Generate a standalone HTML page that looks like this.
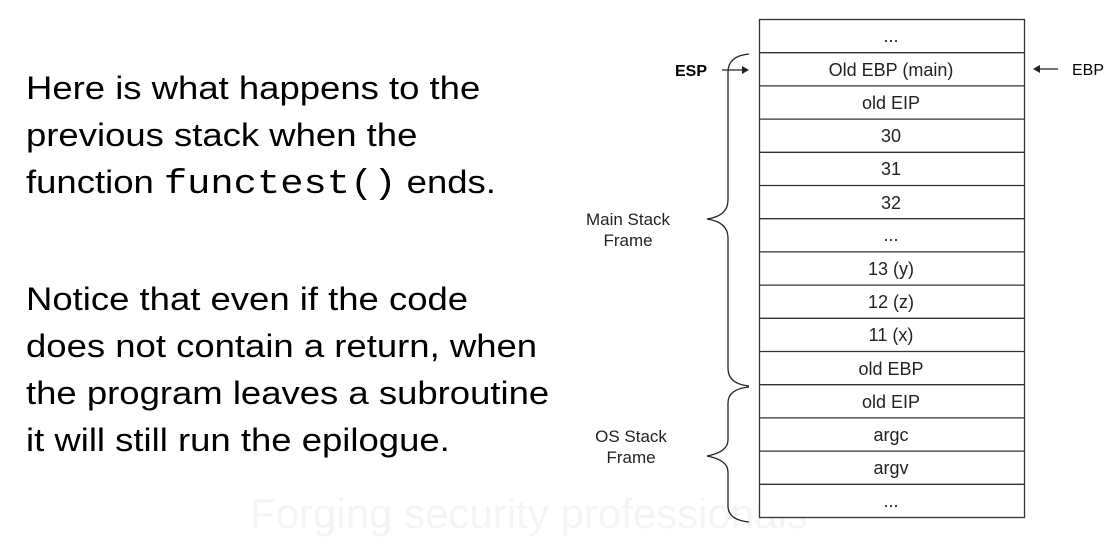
<!DOCTYPE html>
<html><head><meta charset="utf-8"><style>
body{margin:0;width:1110px;height:548px;background:#fff;position:relative;overflow:hidden;font-family:"Liberation Sans",sans-serif}
.l{position:absolute;left:26px;font-size:32px;color:#000;white-space:nowrap;line-height:1;transform:scaleX(1.14);transform-origin:0 0}
.m{font-family:"Liberation Mono",monospace;font-size:34px}
</style></head><body>
<div style="position:absolute;left:250px;top:490px;font-size:42px;color:#f7f3f3;white-space:nowrap">Forging security professionals</div>
<div class="l" style="top:72px">Here is what happens to the</div>
<div class="l" style="top:119px">previous stack when the</div>
<div class="l" style="top:166px">function <span class="m">functest()</span> ends.</div>
<div class="l" style="top:283px">Notice that even if the code</div>
<div class="l" style="top:330px">does not contain a return, when</div>
<div class="l" style="top:377px">the program leaves a subroutine</div>
<div class="l" style="top:424px">it will still run the epilogue.</div>
<svg width="1110" height="548" style="position:absolute;left:0;top:0" font-family="Liberation Sans, sans-serif">
<g stroke="#333" stroke-width="1.3" fill="#fff">
<rect x="759.5" y="19.5" width="265" height="498"/>
</g>
<g stroke="#333" stroke-width="1.3">
<line x1="759" x2="1024" y1="52.7" y2="52.7"/><line x1="759" x2="1024" y1="85.9" y2="85.9"/>
<line x1="759" x2="1024" y1="119.1" y2="119.1"/><line x1="759" x2="1024" y1="152.3" y2="152.3"/>
<line x1="759" x2="1024" y1="185.5" y2="185.5"/><line x1="759" x2="1024" y1="218.7" y2="218.7"/>
<line x1="759" x2="1024" y1="251.9" y2="251.9"/><line x1="759" x2="1024" y1="285.1" y2="285.1"/>
<line x1="759" x2="1024" y1="318.3" y2="318.3"/><line x1="759" x2="1024" y1="351.5" y2="351.5"/>
<line x1="759" x2="1024" y1="384.7" y2="384.7"/><line x1="759" x2="1024" y1="417.9" y2="417.9"/>
<line x1="759" x2="1024" y1="451.1" y2="451.1"/><line x1="759" x2="1024" y1="484.3" y2="484.3"/>
</g>
<g font-size="18" fill="#222" text-anchor="middle">
<text x="891" y="42">...</text>
<text x="891" y="76">Old EBP (main)</text>
<text x="891" y="109">old EIP</text>
<text x="891" y="142">30</text>
<text x="891" y="175">31</text>
<text x="891" y="209">32</text>
<text x="891" y="241">...</text>
<text x="891" y="275">13 (y)</text>
<text x="891" y="308">12 (z)</text>
<text x="891" y="341">11 (x)</text>
<text x="891" y="375">old EBP</text>
<text x="891" y="408">old EIP</text>
<text x="891" y="441">argc</text>
<text x="891" y="474">argv</text>
<text x="891" y="507">...</text>
<text x="628" y="225" font-size="17">Main Stack</text>
<text x="628" y="246" font-size="17">Frame</text>
<text x="631" y="442" font-size="17">OS Stack</text>
<text x="631" y="463" font-size="17">Frame</text>
</g>
<text x="675" y="76" font-size="16" font-weight="bold" fill="#000">ESP</text>
<text x="1072" y="75" font-size="16" fill="#000">EBP</text>
<g stroke="#222" stroke-width="1.3" fill="none">
<line x1="722" y1="70" x2="742" y2="70"/>
<line x1="1040" y1="69" x2="1058" y2="69"/>
<path d="M749,54 Q728,56 728,72 L728,200 Q728,216 707,219 Q728,222 728,238 L728,368 Q728,384 749,386"/>
<path d="M749,387 Q728,389 728,403 L728,440 Q728,452 707,456 Q728,460 728,472 L728,506 Q728,520 749,522"/>
</g>
<path d="M742,66 L749,70 L742,74Z" fill="#222"/>
<path d="M1040,65 L1033,69 L1040,73Z" fill="#222"/>
</svg>
</body></html>
